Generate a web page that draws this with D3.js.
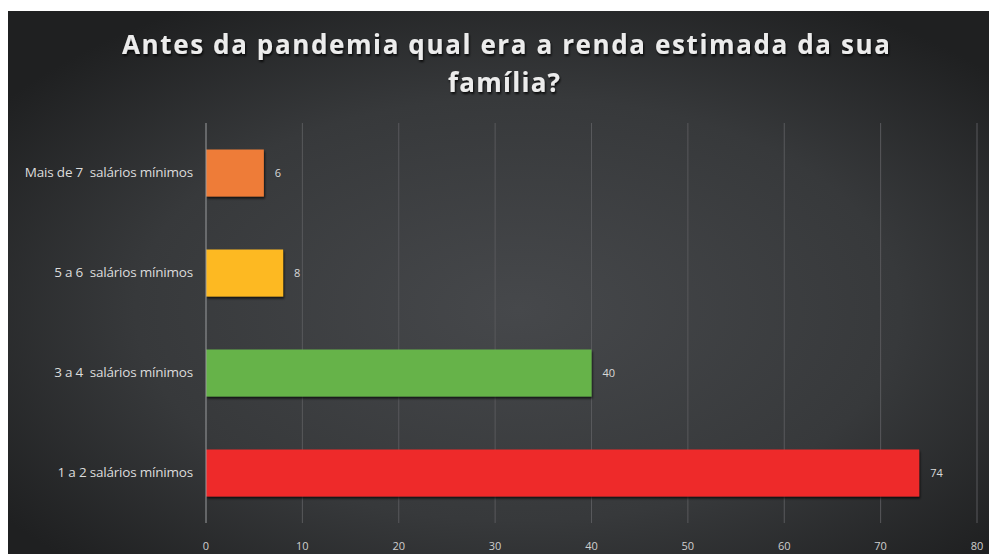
<!DOCTYPE html>
<html>
<head>
<meta charset="utf-8">
<script src="https://cdn.jsdelivr.net/npm/d3@7"></script>
<style>
  body { margin: 0; background: #fff; }
  svg { display: block; }
</style>
</head>
<body>
<div id="container"></div>
<script>
const categories = ['Mais de 7  salários mínimos', '5 a 6  salários mínimos', '3 a 4  salários mínimos', '1 a 2 salários mínimos']
const values = [6, 8, 40, 74]
const barColours = ['#EE7C38', '#FDB924', '#66B34A', '#EE2A2A']
const ticks = [0, 10, 20, 30, 40, 50, 60, 70, 80]

const w = 989
const h = 554

const svg = d3.select('#container')
  .append('svg')
  .attr('width', w)
  .attr('height', h)

const defs = svg.append('defs')
const bg = defs.append('radialGradient')
  .attr('id', 'bg')
  .attr('cx', '52%').attr('cy', '55%').attr('r', '65%')
bg.append('stop').attr('offset', '0%').attr('stop-color', '#46484b')
bg.append('stop').attr('offset', '60%').attr('stop-color', '#37393b')
bg.append('stop').attr('offset', '100%').attr('stop-color', '#1f2021')

const shadow = defs.append('filter').attr('id', 'shadow')
  .attr('x', '-10%').attr('y', '-10%').attr('width', '130%').attr('height', '140%')
shadow.append('feDropShadow')
  .attr('dx', 1).attr('dy', 2).attr('stdDeviation', 1)
  .attr('flood-color', '#000').attr('flood-opacity', 0.7)

const titleShadow = defs.append('filter').attr('id', 'tshadow')
titleShadow.append('feDropShadow')
  .attr('dx', 1).attr('dy', 2).attr('stdDeviation', 1.2)
  .attr('flood-color', '#000').attr('flood-opacity', 0.8)

svg.append('rect')
  .attr('x', 8).attr('y', 11)
  .attr('width', w - 8).attr('height', h - 11)
  .attr('fill', 'url(#bg)')

// title
const titleStyle = (t) => t
  .attr('text-anchor', 'middle')
  .attr('fill', '#ececec')
  .attr('font-family', 'Open Sans')
  .attr('font-weight', 700)
  .attr('font-size', 26)
  .attr('filter', 'url(#tshadow)')

svg.append('text').call(titleStyle)
  .attr('x', 506).attr('y', 54)
  .attr('textLength', 768).attr('lengthAdjust', 'spacing')
  .text('Antes da pandemia qual era a renda estimada da sua')
svg.append('text').call(titleStyle)
  .attr('x', 504).attr('y', 92)
  .attr('textLength', 112).attr('lengthAdjust', 'spacing')
  .text('família?')

const x = d3.scaleLinear().domain([0, 80]).range([206, 977])
const y = d3.scaleBand().domain(categories).range([123, 523]).paddingInner(0.53).paddingOuter(0.265)

// gridlines
svg.append('g')
  .selectAll('line')
  .data(ticks.slice(1))
  .enter()
  .append('line')
  .attr('x1', (d) => x(d)).attr('x2', (d) => x(d))
  .attr('y1', 123).attr('y2', 523)
  .attr('stroke', '#58595c')
  .attr('stroke-width', 1)

// x tick labels
svg.append('g')
  .selectAll('text')
  .data(ticks)
  .enter()
  .append('text')
  .attr('x', (d) => x(d))
  .attr('y', 550)
  .attr('text-anchor', 'middle')
  .attr('fill', '#cfcfcf')
  .attr('font-family', 'Open Sans')
  .attr('font-size', 11)
  .text((d) => d)

// bars
const rows = categories.map((c, i) => ({ name: c, value: values[i], colour: barColours[i] }))

svg.append('g')
  .selectAll('rect')
  .data(rows)
  .enter()
  .append('rect')
  .attr('x', x(0))
  .attr('y', (d) => y(d.name))
  .attr('width', (d) => x(d.value) - x(0))
  .attr('height', y.bandwidth())
  .attr('fill', (d) => d.colour)
  .attr('filter', 'url(#shadow)')

// axis line at zero
svg.append('line')
  .attr('x1', x(0)).attr('x2', x(0))
  .attr('y1', 123).attr('y2', 523)
  .attr('stroke', '#9a9c9e')
  .attr('stroke-width', 1)

// value labels
svg.append('g')
  .selectAll('text')
  .data(rows)
  .enter()
  .append('text')
  .attr('x', (d) => x(d.value) + 11)
  .attr('y', (d) => y(d.name) + y.bandwidth() / 2 + 4)
  .attr('fill', '#d9d9d9')
  .attr('font-family', 'Open Sans')
  .attr('font-size', 11)
  .text((d) => d.value)

// category labels
svg.append('g')
  .selectAll('text')
  .data(rows)
  .enter()
  .append('text')
  .attr('x', 193)
  .attr('y', (d) => y(d.name) + y.bandwidth() / 2 + 4)
  .attr('text-anchor', 'end')
  .attr('fill', '#dcdcdc')
  .attr('font-family', 'Open Sans')
  .attr('font-size', 13.5)
  .attr('letter-spacing', -0.2)
  .attr('xml:space', 'preserve')
  .text((d) => d.name)
</script>
</body>
</html>
